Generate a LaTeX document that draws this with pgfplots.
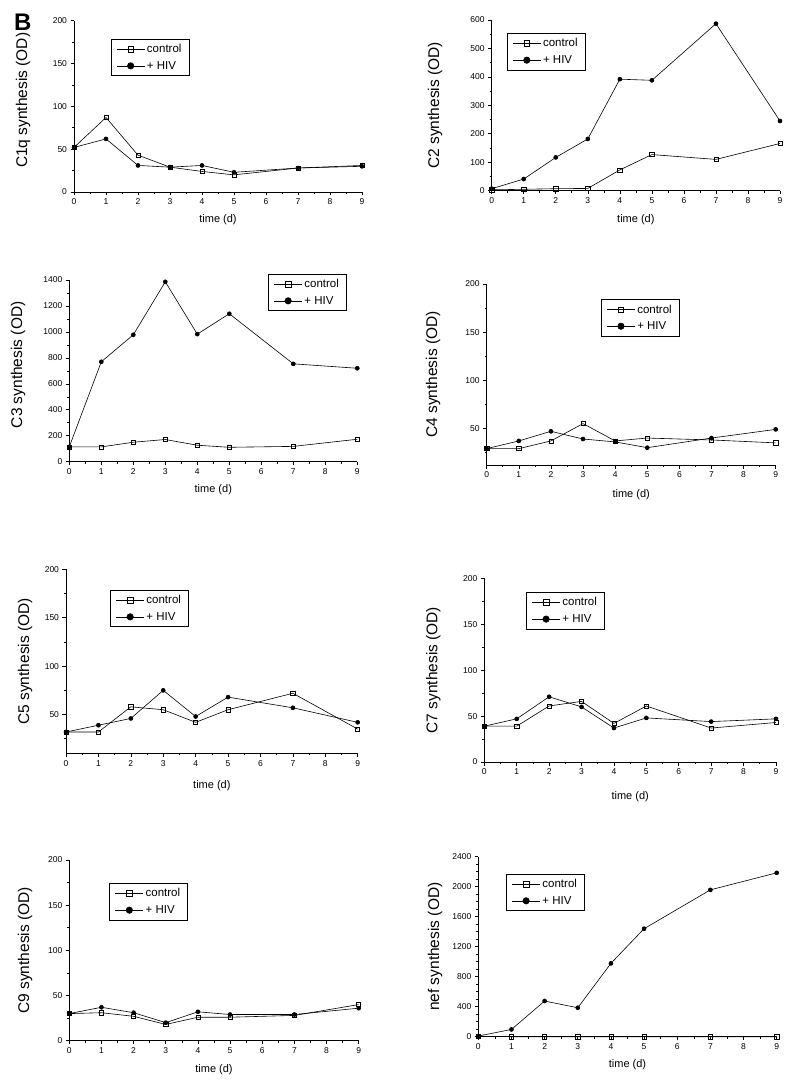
\documentclass[border=0pt]{standalone}
\usepackage{fontspec}
\setmainfont{Liberation Sans}
\usepackage{pgfplots}
\pgfplotsset{compat=1.18}
\pgfplotsset{
  panel/.style={
    scale only axis, axis lines=left, axis line style={-, line width=0.7pt},
    tick align=outside, major tick length=3.5pt, minor tick length=2pt,
    every tick/.style={black, line width=0.6pt},
    xmin=0, xmax=9, xtick={0,...,9}, minor x tick num=1,
    clip=false,
    ticklabel style={font=\fontsize{8.5}{10}\selectfont},
    /pgf/number format/assume math mode=true,
    /pgf/number format/1000 sep={},
    xlabel={time (d)},
    xlabel style={font=\fontsize{11}{13}\selectfont, at={(axis description cs:0.5,0)}, anchor=center},
    ylabel style={font=\fontsize{15.5}{18}\selectfont, at={(axis description cs:0,0.5)}, anchor=center},
    legend style={draw=black, line width=0.6pt, font=\fontsize{11.5}{13}\selectfont, anchor=north west,
      inner xsep=5.5pt, inner ysep=3pt, row sep=3pt, cells={anchor=west}},
    legend image code/.code={%
      \draw[#1, mark=none] (0pt,0pt) -- (28pt,0pt);
      \draw[#1, only marks] plot coordinates {(14pt,0pt)};},
  },
  ctrl/.style={black, line width=0.6pt, mark=square, mark size=2.1pt, mark options={fill=white, solid}},
  hiv/.style={black, line width=0.6pt, mark=*, mark size=2pt, mark options={fill=black, solid}},
  lctrl/.style={black, line width=0.6pt, mark=square, mark size=2.8pt, mark options={fill=white, solid}},
  lhiv/.style={black, line width=0.6pt, mark=*, mark size=3.2pt, mark options={fill=black, solid}},
}
\newcommand{\leg}{%
  \addlegendimage{lctrl}\addlegendentry{control}
  \addlegendimage{lhiv}\addlegendentry{+ HIV}}
\begin{document}
\begin{tikzpicture}
\path[use as bounding box] (0,0) rectangle (800pt,-1086pt);
\node[anchor=base west, font=\fontsize{24}{26}\selectfont\bfseries, inner sep=0pt] at (14pt,-31pt) {B};

% C1q
\begin{axis}[panel, at={(74pt,-192pt)}, anchor=south west, width=288pt, height=171.3pt,
  ymin=0, ymax=200, ytick={0,50,...,200}, minor y tick num=1,
  ylabel={C1q synthesis (OD)}, ylabel style={yshift=51pt, xshift=6pt}, xlabel style={yshift=-28pt},
  legend style={at={(0.127,0.893)}}]
\leg
\addplot[ctrl, forget plot] coordinates {(0,52) (1,87) (2,43) (3,29) (4,24) (5,20) (7,28) (9,31)};
\addplot[hiv, forget plot] coordinates {(0,52) (1,62) (2,31) (3,29) (4,31) (5,23) (7,28) (9,30)};
\end{axis}

% C2
\begin{axis}[panel, at={(491.7pt,-190.7pt)}, anchor=south west, width=288.3pt, height=170.7pt,
  ymin=0, ymax=600, ytick={0,100,...,600}, minor y tick num=1,
  ylabel={C2 synthesis (OD)}, ylabel style={yshift=56.7pt}, xlabel style={yshift=-29.3pt},
  legend style={at={(0.052,0.922)}}]
\leg
\addplot[ctrl, forget plot] coordinates {(0,3) (1,5) (2,7) (3,8) (4,73) (5,127) (7,110) (9,166)};
\addplot[hiv, forget plot] coordinates {(0,7) (1,41) (2,117) (3,182) (4,392) (5,388) (7,587) (9,245)};
\end{axis}

% C3
\begin{axis}[panel, at={(69.3pt,-461.7pt)}, anchor=south west, width=288pt, height=181.7pt,
  ymin=0, ymax=1400, ytick={0,200,...,1400}, minor y tick num=1,
  ylabel={C3 synthesis (OD)}, ylabel style={yshift=51.3pt, xshift=6pt}, xlabel style={yshift=-28.3pt},
  legend style={at={(0.69,1.033)}}]
\leg
\addplot[ctrl, forget plot] coordinates {(0,114) (1,114) (2,150) (3,171) (4,127) (5,111) (7,118) (9,173)};
\addplot[hiv, forget plot] coordinates {(0,115) (1,770) (2,978) (3,1386) (4,983) (5,1140) (7,754) (9,720)};
\end{axis}

% C4
\begin{axis}[panel, at={(486.7pt,-465pt)}, anchor=south west, width=289pt, height=181pt,
  ymin=12, ymax=200, ytick={50,100,150,200}, minor ytick={25,75,125,175},
  ylabel={C4 synthesis (OD)}, ylabel style={yshift=53.7pt}, xlabel style={yshift=-30pt},
  legend style={at={(0.395,0.915)}}]
\leg
\addplot[ctrl, forget plot] coordinates {(0,29) (1,29) (2,37) (3,55) (4,37) (5,40) (7,38) (9,35)};
\addplot[hiv, forget plot] coordinates {(0,29) (1,37) (2,47) (3,39) (4,36) (5,30) (7,40) (9,49)};
\end{axis}

% C5
\begin{axis}[panel, at={(66pt,-753.3pt)}, anchor=south west, width=291.7pt, height=184pt,
  ymin=10, ymax=200, ytick={50,100,150,200}, minor ytick={25,75,125,175},
  ylabel={C5 synthesis (OD)}, ylabel style={yshift=41pt}, xlabel style={yshift=-32.7pt},
  legend style={at={(0.151,0.8875)}}]
\leg
\addplot[ctrl, forget plot] coordinates {(0,32) (1,32) (2,58) (3,55) (4,42) (5,55) (7,72) (9,35)};
\addplot[hiv, forget plot] coordinates {(0,32) (1,39) (2,46) (3,75) (4,48) (5,68) (7,57) (9,42)};
\end{axis}

% C7
\begin{axis}[panel, at={(484.3pt,-762pt)}, anchor=south west, width=291.7pt, height=183.7pt,
  ymin=0, ymax=200, ytick={0,50,...,200}, minor y tick num=1,
  ylabel={C7 synthesis (OD)}, ylabel style={yshift=51pt}, xlabel style={yshift=-35pt},
  legend style={at={(0.143,0.924)}}]
\leg
\addplot[ctrl, forget plot] coordinates {(0,39) (1,39) (2,61) (3,66) (4,42) (5,61) (7,37) (9,43)};
\addplot[hiv, forget plot] coordinates {(0,39) (1,47) (2,71) (3,60) (4,37) (5,48) (7,44) (9,47)};
\end{axis}

% C9
\begin{axis}[panel, at={(69.3pt,-1040.7pt)}, anchor=south west, width=289.4pt, height=180.7pt,
  ymin=0, ymax=200, ytick={0,50,...,200}, minor y tick num=1,
  ylabel={C9 synthesis (OD)}, ylabel style={yshift=44.3pt}, xlabel style={yshift=-29.3pt},
  legend style={at={(0.138,0.871)}}]
\leg
\addplot[ctrl, forget plot] coordinates {(0,30) (1,31) (2,27) (3,18) (4,26) (5,26) (7,28) (9,40)};
\addplot[hiv, forget plot] coordinates {(0,30) (1,37) (2,31) (3,20) (4,32) (5,29) (7,29) (9,36)};
\end{axis}

% nef
\begin{axis}[panel, at={(478.3pt,-1036.7pt)}, anchor=south west, width=298.4pt, height=180pt,
  ymin=0, ymax=2400, ytick={0,400,...,2400}, minor y tick num=3,
  ylabel={nef synthesis (OD)}, ylabel style={yshift=43.3pt}, xlabel style={yshift=-28.3pt},
  legend style={at={(0.093,0.904)}}]
\leg
\addplot[hiv, forget plot] coordinates {(0,9) (1,97) (2,476) (3,386) (4,978) (5,1440) (7,1958) (9,2185)};
\addplot[ctrl, forget plot] coordinates {(0,5) (1,0) (2,0) (3,0) (4,0) (5,0) (7,0) (9,0)};
\end{axis}
\end{tikzpicture}
\end{document}
